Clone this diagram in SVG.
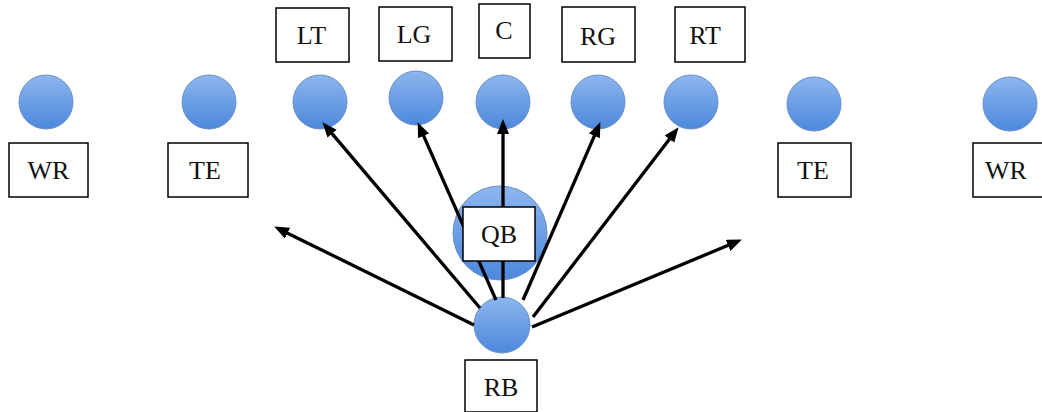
<svg xmlns="http://www.w3.org/2000/svg" width="1042" height="412" viewBox="0 0 1042 412">
<defs>
<linearGradient id="blue" x1="0" y1="0" x2="0" y2="1">
<stop offset="0" stop-color="#8db6ee"/>
<stop offset="1" stop-color="#4c88dc"/>
</linearGradient>
<marker id="arr" markerUnits="userSpaceOnUse" markerWidth="16" markerHeight="14" refX="4" refY="6" orient="auto">
<path d="M0,0 L15,6 L0,12 z" fill="#000"/>
</marker>
<style>
.p{fill:url(#blue);stroke:#6a90c6;stroke-width:1}
.b{fill:#fff;stroke:#000;stroke-width:1.5}
.t{font-family:"Liberation Serif",serif;font-size:26px;fill:#111;text-anchor:middle}
.c{stroke:#000;stroke-width:3.3;fill:none;marker-end:url(#arr)}
</style>
</defs>
<rect width="1042" height="412" fill="#fff"/>
<g id="wr-left"><circle class="p" cx="46" cy="102" r="27"/><rect class="b" x="9" y="143" width="79" height="54"/><text class="t" x="48.5" y="179">WR</text></g>
<g id="te-left"><circle class="p" cx="209" cy="102" r="27"/><rect class="b" x="168" y="143" width="80" height="54"/><text class="t" x="205" y="179">TE</text></g>
<g id="lt"><circle class="p" cx="320" cy="102" r="27"/><rect class="b" x="276" y="8" width="73" height="54"/><text class="t" x="311.5" y="44">LT</text></g>
<g id="lg"><circle class="p" cx="416" cy="98" r="27"/><rect class="b" x="379" y="7" width="73" height="54"/><text class="t" x="414" y="43">LG</text></g>
<g id="c"><circle class="p" cx="503" cy="102" r="27"/><rect class="b" x="479" y="4" width="51" height="54"/><text class="t" x="504" y="39">C</text></g>
<g id="rg"><circle class="p" cx="598" cy="102" r="27"/><rect class="b" x="562" y="7" width="73" height="55"/><text class="t" x="598" y="45">RG</text></g>
<g id="rt"><circle class="p" cx="691" cy="102" r="27"/><rect class="b" x="675" y="7" width="70" height="55"/><text class="t" x="705" y="44">RT</text></g>
<g id="te-right"><circle class="p" cx="814" cy="104" r="27"/><rect class="b" x="778" y="143" width="73" height="54"/><text class="t" x="813" y="179">TE</text></g>
<g id="wr-right"><circle class="p" cx="1010" cy="104" r="27"/><rect class="b" x="973" y="143" width="70" height="54"/><text class="t" x="1006" y="179">WR</text></g>
<g id="qb"><circle class="p" cx="500" cy="233" r="47"/></g>
<g id="rb"><circle class="p" cx="502" cy="325" r="28"/><rect class="b" x="465" y="360" width="72" height="52"/><text class="t" x="501" y="396">RB</text></g>
<g id="connectors">
<path class="c" d="M474,325 L284,231.4"/>
<path class="c" d="M480,308 L329.5,130.6"/>
<path class="c" d="M496,300 L422,132.2"/>
<path class="c" d="M503,298 L503,130"/>
<path class="c" d="M523,300 L596,132.2"/>
<path class="c" d="M533,317 L671.9,135.9"/>
<path class="c" d="M532,327 L731.8,243.8"/>
</g>
<g id="qb-label"><rect class="b" x="463" y="207" width="72" height="54"/><text class="t" x="499" y="243">QB</text></g>
</svg>
